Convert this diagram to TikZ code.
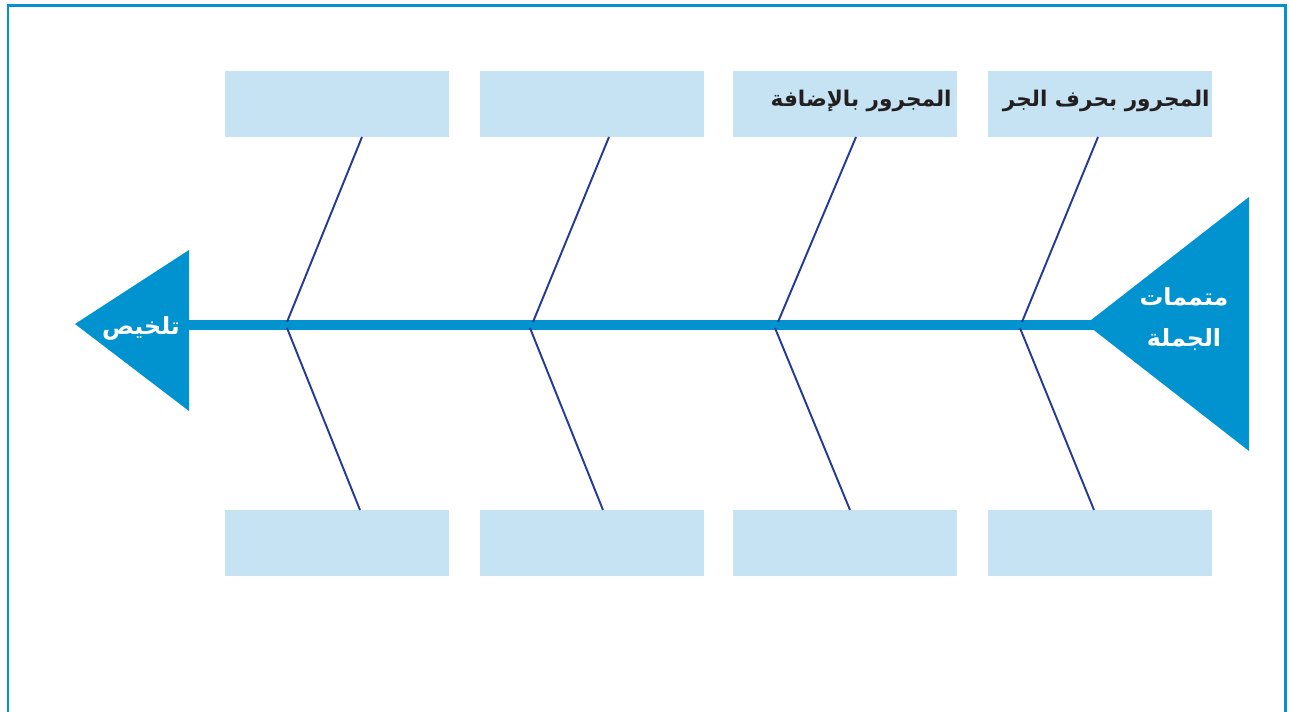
\documentclass[tikz,border=0pt]{standalone}
\usepackage{fontspec}
\newfontfamily\arabicfont[Script=Arabic]{DejaVu Sans}
\TeXXeTstate=1
\definecolor{cadrebleu}{RGB}{0,147,208}
\definecolor{boitebleu}{RGB}{197,227,243}
\definecolor{arete}{RGB}{36,58,150}
\definecolor{texte}{RGB}{35,31,32}
\tikzset{
  boite/.style={fill=boitebleu, minimum width=4.5cm, minimum height=1.32cm, inner sep=0pt},
  arete/.style={draw=arete, line width=1.1pt},
  titre/.style={font=\arabicfont\bfseries\fontsize{12.3}{14}\selectfont, text=texte, anchor=east, inner sep=0pt},
  blanc/.style={font=\arabicfont\bfseries\fontsize{13.5}{23}\selectfont, text=white, align=center, inner sep=0pt}
}
\begin{document}
\begin{tikzpicture}[x=0.02cm,y=-0.02cm]
\useasboundingbox (0,0) rectangle (1289,712);

%cadre
\draw[cadrebleu, line width=1.7pt] (8,712) -- (8,6) -- (1285,6) -- (1285,712);

%arete centrale
\coordinate (queue) at (185,325);
\coordinate (tete) at (1095,325);
\draw[cadrebleu, line width=5.5pt] (queue) -- (tete);

%triangle gauche
\fill[cadrebleu] (75,324) -- (189,250) -- (189,411) -- cycle;
\node[blanc] (resume) at (141,328) {\beginR تلخيص\endR};

%triangle droit
\fill[cadrebleu] (1086,324) -- (1249,197) -- (1249,451) -- cycle;
\node[blanc] (complements) at (1184,319) {\beginR متممات\endR\\\beginR الجملة\endR};

%boites du haut
\node[boite] (h1) at (337,104) {};
\node[boite] (h2) at (592,104) {};
\node[boite] (h3) at (845,104) {};
\node[boite] (h4) at (1100,104) {};
\node[titre] (t3) at (952,101) {\beginR المجرور بالإضافة\endR};
\node[titre] (t4) at (1210,101) {\beginR المجرور بحرف الجر\endR};

%boites du bas
\node[boite] (b1) at (337,543) {};
\node[boite] (b2) at (592,543) {};
\node[boite] (b3) at (845,543) {};
\node[boite] (b4) at (1100,543) {};

%aretes du haut
\coordinate (hh1) at (362,137); \coordinate (hs1) at (287,322);
\coordinate (hh2) at (609,137); \coordinate (hs2) at (533,322);
\coordinate (hh3) at (856,137); \coordinate (hs3) at (778,322);
\coordinate (hh4) at (1098,137); \coordinate (hs4) at (1022,322);
\draw[arete] (hh1) -- (hs1);
\draw[arete] (hh2) -- (hs2);
\draw[arete] (hh3) -- (hs3);
\draw[arete] (hh4) -- (hs4);

%aretes du bas
\coordinate (bs1) at (287,328); \coordinate (bb1) at (360,510);
\coordinate (bs2) at (530,328); \coordinate (bb2) at (603,510);
\coordinate (bs3) at (775,328); \coordinate (bb3) at (850,510);
\coordinate (bs4) at (1020,328); \coordinate (bb4) at (1094,510);
\draw[arete] (bs1) -- (bb1);
\draw[arete] (bs2) -- (bb2);
\draw[arete] (bs3) -- (bb3);
\draw[arete] (bs4) -- (bb4);

\end{tikzpicture}
\end{document}
